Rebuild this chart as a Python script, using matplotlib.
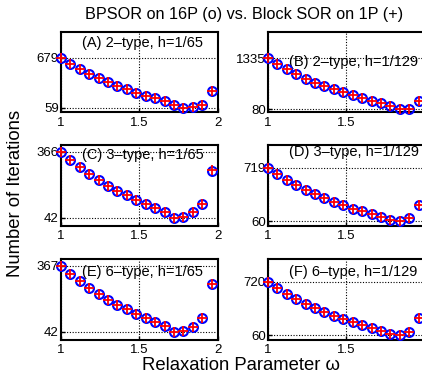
#!/usr/bin/env python3
"""BPSOR vs. block SOR: iteration counts against the relaxation parameter."""

import matplotlib

matplotlib.use("Agg")
import matplotlib.pyplot as plt

plt.rcParams["font.family"] = ["Liberation Sans", "DejaVu Sans"]

OMEGA = [1.00, 1.06, 1.12, 1.18, 1.24, 1.30, 1.36, 1.42, 1.48,
         1.54, 1.60, 1.66, 1.72, 1.78, 1.84, 1.90, 1.96]

# BPSOR on 16 processors (circles)
BPSOR_A = [679, 605, 543, 481, 423, 377, 328, 286, 245, 208, 175, 142, 96, 59, 62, 96, 266]
BPSOR_B = [1335, 1188, 1074, 944, 838, 740, 651, 569, 496, 422, 357, 292, 243, 170, 80, 95, 276]
BPSOR_C = [366, 328, 292, 258, 227, 199, 175, 153, 130, 109, 89, 70, 42, 43, 70, 109, 271]
BPSOR_D = [719, 637, 568, 502, 445, 392, 342, 297, 256, 216, 183, 146, 109, 68, 60, 97, 265]
BPSOR_E = [367, 326, 290, 256, 227, 199, 173, 151, 129, 109, 88, 68, 42, 43, 66, 109, 279]
BPSOR_F = [720, 638, 569, 504, 447, 394, 345, 300, 260, 223, 186, 150, 113, 72, 60, 101, 272]

# block SOR on 1 processor (pluses)
BSOR_A = [679, 605, 543, 481, 423, 377, 328, 286, 245, 208, 175, 142, 96, 59, 62, 96, 266]
BSOR_B = [1335, 1188, 1074, 944, 838, 740, 651, 569, 496, 422, 357, 292, 243, 170, 80, 95, 276]
BSOR_C = [366, 328, 292, 258, 227, 199, 175, 153, 130, 109, 89, 70, 42, 43, 70, 109, 279]
BSOR_D = [719, 637, 568, 502, 445, 392, 342, 297, 256, 216, 183, 146, 109, 68, 60, 97, 265]
BSOR_E = [367, 326, 290, 256, 227, 199, 173, 151, 129, 109, 88, 68, 42, 43, 66, 109, 279]
BSOR_F = [720, 638, 569, 504, 447, 394, 345, 300, 260, 223, 186, 150, 113, 72, 60, 101, 272]

LABELS = ["(A) 2\u2013type, h=1/65", "(B) 2\u2013type, h=1/129",
          "(C) 3\u2013type, h=1/65", "(D) 3\u2013type, h=1/129",
          "(E) 6\u2013type, h=1/65", "(F) 6\u2013type, h=1/129"]
YMAX = [1000, 2000, 400, 1000, 400, 1000]
XTICKS = [1, 1.5, 2]
XTICKLABELS = ["1", "1.5", "2"]

PANELS = [
    (BPSOR_A, BSOR_A), (BPSOR_B, BSOR_B),
    (BPSOR_C, BSOR_C), (BPSOR_D, BSOR_D),
    (BPSOR_E, BSOR_E), (BPSOR_F, BSOR_F),
]

# axes boxes in figure fractions (the right column runs off the page)
COL_LEFT = [0.1445, 0.635]
ROW_BOTTOM = [0.7032, 0.4037, 0.1029]
BOX_W, BOX_H = 0.372, 0.2135
LABEL_Y = [0.86, 0.63, 0.875, 0.915, 0.845, 0.845]


def draw_panel(ax, idx, circles, pluses):
    ax.plot(OMEGA, circles, linestyle="none", marker="o", markersize=6.4,
            markerfacecolor="none", markeredgecolor="#0000ff",
            markeredgewidth=1.5, clip_on=False, zorder=3)
    ax.plot(OMEGA, pluses, linestyle="none", marker="+", markersize=6.5,
            color="#ff0000", markeredgewidth=1.3, clip_on=False, zorder=4)
    lo, hi = min(circles), max(circles)
    ax.set_xlim(1, 2)
    ax.set_ylim(0, YMAX[idx])
    ax.set_xticks(XTICKS)
    # the "2" of the right column falls past the page edge
    labels = XTICKLABELS if idx % 2 == 0 else XTICKLABELS[:2] + [""]
    ax.set_xticklabels(labels)
    ax.set_yticks([lo, hi])
    ax.set_yticklabels([str(lo), str(hi)])
    ax.grid(True, linestyle=(0, (1, 1.5)), linewidth=0.8, color="black")
    ax.tick_params(direction="in", length=3, width=1, labelsize=9.5, pad=3,
                   colors="black")
    ax.tick_params(axis="y", pad=1.5)
    for spine in ax.spines.values():
        spine.set_linewidth(1.5)
        spine.set_color("black")
    ax.text(0.135, LABEL_Y[idx], LABELS[idx], transform=ax.transAxes,
            fontsize=10.5, ha="left", va="center", zorder=2)


def main():
    fig = plt.figure(figsize=(4.22, 3.79), dpi=100)
    for idx, (circles, pluses) in enumerate(PANELS):
        row, col = divmod(idx, 2)
        ax = fig.add_axes([COL_LEFT[col], ROW_BOTTOM[row], BOX_W, BOX_H])
        draw_panel(ax, idx, circles, pluses)
    fig.text(0.578, 0.962, "BPSOR on 16P (o) vs. Block SOR on 1P (+)",
             ha="center", va="center", fontsize=11.7)
    fig.text(0.036, 0.49, "Number of Iterations", rotation=90,
             ha="center", va="center", fontsize=13.3)
    fig.text(0.57, 0.036, "Relaxation Parameter \u03c9",
             ha="center", va="center", fontsize=13.3)
    fig.savefig("out.png", dpi=100, facecolor="white")
    plt.close(fig)


if __name__ == "__main__":
    main()
